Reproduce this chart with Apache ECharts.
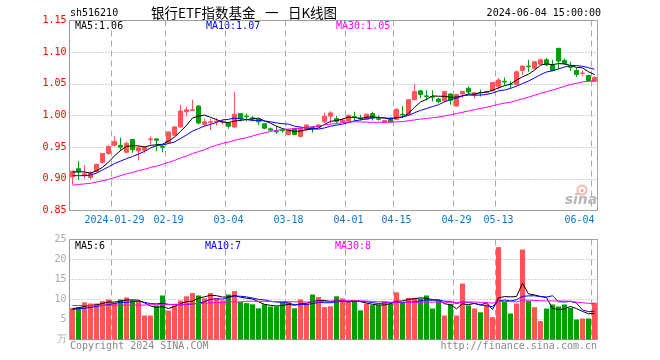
<!DOCTYPE html>
<html><head><meta charset="utf-8">
<script src="https://cdn.jsdelivr.net/npm/echarts@6/dist/echarts.min.js"></script>
<style>html,body{margin:0;padding:0;background:#fff}#c{width:660px;height:360px}</style>
</head><body><div id="c"></div>
<script>
const dates = [
 '2024-01-18','2024-01-19','2024-01-22','2024-01-23','2024-01-24','2024-01-25','2024-01-26','2024-01-29','2024-01-30','2024-01-31',
 '2024-02-01','2024-02-02','2024-02-05','2024-02-06','2024-02-07','2024-02-08','2024-02-19','2024-02-20','2024-02-21','2024-02-22',
 '2024-02-23','2024-02-26','2024-02-27','2024-02-28','2024-02-29','2024-03-01','2024-03-04','2024-03-05','2024-03-06','2024-03-07',
 '2024-03-08','2024-03-11','2024-03-12','2024-03-13','2024-03-14','2024-03-15','2024-03-18','2024-03-19','2024-03-20','2024-03-21',
 '2024-03-22','2024-03-25','2024-03-26','2024-03-27','2024-03-28','2024-03-29','2024-04-01','2024-04-02','2024-04-03','2024-04-08',
 '2024-04-09','2024-04-10','2024-04-11','2024-04-12','2024-04-15','2024-04-16','2024-04-17','2024-04-18','2024-04-19','2024-04-22',
 '2024-04-23','2024-04-24','2024-04-25','2024-04-26','2024-04-29','2024-04-30','2024-05-06','2024-05-07','2024-05-08','2024-05-09',
 '2024-05-10','2024-05-13','2024-05-14','2024-05-15','2024-05-16','2024-05-17','2024-05-20','2024-05-21','2024-05-22','2024-05-23',
 '2024-05-24','2024-05-27','2024-05-28','2024-05-29','2024-05-30','2024-05-31','2024-06-03','2024-06-04'];
const opens = [0.903,0.916,0.905,0.902,0.912,0.926,0.940,0.953,0.953,0.942, 0.962,0.944,0.945,0.962,0.963,0.951,0.957,0.969,0.982,1.006,
 1.008,1.015,0.986,0.989,0.990,0.9895,0.988,0.982,1.003,0.999, 0.9963,0.994,0.987,0.979,0.975,0.977,0.970,0.979,0.967,0.978,
 0.982,0.982,0.990,0.999,0.995,0.990,0.991,0.998,0.996,0.994, 1.003,0.995,0.989,0.996,0.994,1.002,1.001,1.025,1.039,1.031,
 1.030,1.026,1.023,1.034,1.015,1.034,1.043,1.033,1.0365,1.036, 1.039,1.046,1.054,1.0495,1.049,1.071,1.078,1.074,1.081,1.088,
 1.079,1.106,1.087,1.078,1.071,1.0665,1.063,1.054];
const closes = [0.912,0.911,0.908,0.909,0.923,0.940,0.951,0.959,0.950,0.956, 0.946,0.949,0.950,0.963,0.961,0.950,0.974,0.982,1.007,1.009,
 1.009,0.988,0.990,0.990,0.991,0.990,0.983,1.002,0.995,0.998, 0.9947,0.990,0.980,0.977,0.974,0.976,0.977,0.970,0.980,0.985,
 0.981,0.985,0.999,1.004,0.991,0.993,0.9999,0.997,0.995,1.002, 0.996,0.994,0.992,0.990,1.010,1.001,1.025,1.038,1.033,1.030,
 1.029,1.022,1.038,1.024,1.033,1.038,1.037,1.036,1.036,1.038, 1.052,1.056,1.053,1.049,1.069,1.078,1.077,1.085,1.088,1.080,
 1.071,1.086,1.082,1.076,1.065,1.067,1.055,1.060];
const lows = [0.891,0.898,0.900,0.899,0.910,0.924,0.938,0.951,0.944,0.940, 0.941,0.929,0.941,0.954,0.944,0.942,0.956,0.967,0.980,0.999,
 1.007,0.986,0.983,0.977,0.984,0.986,0.979,0.980,0.991,0.991, 0.991,0.985,0.979,0.975,0.971,0.973,0.969,0.969,0.966,0.975,
 0.973,0.981,0.988,0.987,0.987,0.988,0.990,0.991,0.992,0.993, 0.992,0.992,0.988,0.989,0.993,0.996,1.000,1.024,1.027,1.024,
 1.022,1.019,1.022,1.017,1.014,1.028,1.033,1.027,1.030,1.035, 1.038,1.041,1.048,1.043,1.048,1.064,1.069,1.073,1.080,1.078,
 1.070,1.073,1.080,1.070,1.061,1.062,1.053,1.053];
const highs = [0.913,0.928,0.922,0.912,0.924,0.941,0.953,0.967,0.965,0.959, 0.963,0.953,0.952,0.967,0.964,0.954,0.975,0.983,1.017,1.014,
 1.025,1.016,0.995,0.995,0.996,0.994,0.990,1.037,1.004,1.003, 0.999,0.995,0.988,0.981,0.983,0.979,0.978,0.980,0.981,0.986,
 0.983,0.986,1.004,1.007,0.999,0.995,1.002,1.006,1.001,1.003, 1.006,1.000,0.993,0.997,1.011,1.015,1.025,1.049,1.040,1.040,
 1.040,1.028,1.039,1.035,1.034,1.039,1.046,1.037,1.041,1.039, 1.053,1.059,1.060,1.054,1.071,1.079,1.088,1.086,1.090,1.091,
 1.088,1.107,1.090,1.085,1.075,1.071,1.064,1.062];
const volumes = [7.9,8.1,9.3,9.0,9.0,9.6,10.0,9.2,10.0,10.5, 9.8,9.6,6.0,6.0,8.5,11.0,7.25,8.5,9.75,10.8,
 11.6,11.0,10.3,11.6,10.3,9.8,11.25,12.1,9.4,9.1, 8.8,7.8,8.8,8.25,8.25,9.3,9.3,7.8,10.0,9.0,
 11.25,10.6,8.1,8.3,10.8,10.25,9.3,9.75,7.3,9.0, 8.6,8.6,9.6,9.0,11.8,9.3,10.4,10.4,10.25,11.0,
 7.75,9.75,6.0,8.9,6.0,14.0,8.5,7.75,6.8,8.75, 5.6,23.1,9.4,6.5,9.0,22.5,9.6,8.1,4.6,7.75,
 8.75,8.25,8.75,7.9,5.0,5.25,5.25,9.2];
// moving-average values before enough visible history exists
const ma5Head = [0.911,0.911,0.911,0.909];
const ma10Head = [0.905,0.905,0.905,0.906,0.909,0.914,0.919,0.924,0.928];
const ma30Head = [0.890,0.891,0.892,0.893,0.895,0.897,0.899,0.902,0.905,0.908,0.910,0.913,0.915,0.918,0.920,0.923,0.926,0.929,0.933,0.936,0.940,0.943,0.946,0.950,0.953,0.956,0.958,0.961,0.963];
const vma5Head = [7.7,7.9,8.3,8.5];
const vma10Head = [7.5,7.7,7.8,8.0,8.3,8.5,8.75,9.0,9.3];
const vma30Head = [8.5,8.5,8.5,8.5,8.5,8.5,8.5,8.6,8.6,8.6,8.6,8.6,8.6,8.7,8.7,8.7,8.7,8.8,8.8,8.8,9.0,9.0,9.0,9.2,9.2,9.2,9.4,9.4,9.4];
const tickDates = ['2024-01-29','2024-02-19','2024-03-04','2024-03-18','2024-04-01','2024-04-15','2024-04-29','2024-05-13','2024-06-04'];
const yTicks = [0.85,1.15,0.05];
const vTicks = [0,25,5];
const priceLegend = ['MA5:1.06','MA10:1.07','MA30:1.05'];
const volLegend = ['MA5:6','MA10:7','MA30:8'];

function movingAvg(vals, n, head){
  return vals.map((v,i)=>{
    if (i < n-1) return head[i];
    let s=0; for(let k=i-n+1;k<=i;k++) s+=vals[k];
    return +(s/n).toFixed(4);
  });
}
const tickSet = new Set(tickDates.map(d=>dates.indexOf(d)));
const showTick = (i)=>tickSet.has(i);
const ohlc = dates.map((d,i)=>[opens[i],closes[i],lows[i],highs[i]]);
const RED='#ff5555', GREEN='#00a000';
const MONO='"DejaVu Sans Mono", "Liberation Mono", monospace';
const volData = volumes.map((v,i)=>({value:v,itemStyle:{color: closes[i]>=opens[i]?RED:GREEN}}));
const grid1 = {left:69.5, top:20.5, width:528, height:190};
const grid2 = {left:69.5, top:239.5, width:528, height:100};
function lineS(data, color, xi){
  return {type:'line', data, xAxisIndex:xi, yAxisIndex:xi, symbol:'none', silent:true,
    lineStyle:{color, width:1}, itemStyle:{color}, z:5, animation:false};
}
const chart = echarts.init(document.getElementById('c'), null, {renderer:'canvas'});
chart.setOption({
  animation:false,
  backgroundColor:'#ffffff',
  grid:[Object.assign({show:true,borderColor:'#999',borderWidth:1},grid1), Object.assign({show:true,borderColor:'#999',borderWidth:1},grid2)],
  xAxis:[
    {type:'category', gridIndex:0, data:dates, boundaryGap:true,
     axisLine:{show:false}, axisTick:{show:false},
     axisLabel:{show:true, interval:showTick, color:'#0a78d2', fontFamily:MONO, fontSize:10, margin:5,
       alignMaxLabel:'right',
       formatter:(v)=> v===tickDates[0] ? v : v.slice(5)},
     splitLine:{show:true, interval:showTick, lineStyle:{color:'#aaa', width:1, type:[6,4]}}},
    {type:'category', gridIndex:1, data:dates, boundaryGap:true,
     axisLine:{show:false}, axisTick:{show:false}, axisLabel:{show:false},
     splitLine:{show:true, interval:showTick, lineStyle:{color:'#aaa', width:1, type:[6,4]}}}
  ],
  yAxis:[
    {type:'value', gridIndex:0, min:yTicks[0], max:yTicks[1], interval:yTicks[2],
     axisLine:{show:false}, axisTick:{show:false},
     axisLabel:{color:'#ff0000', fontFamily:MONO, fontSize:10, margin:3, formatter:(v)=>v.toFixed(2)},
     splitLine:{show:true, lineStyle:{color:'#aaa', width:1, type:[1,2]}}},
    {type:'value', gridIndex:1, min:vTicks[0], max:vTicks[1], interval:vTicks[2],
     axisLine:{show:false}, axisTick:{show:false},
     axisLabel:{color:'#aaa', fontFamily:MONO, fontSize:10, margin:3, formatter:(v)=> v===0 ? '万' : String(v)},
     splitLine:{show:true, lineStyle:{color:'#aaa', width:1, type:[1,2]}}}
  ],
  series:[
    {type:'candlestick', data:ohlc, xAxisIndex:0, yAxisIndex:0, barWidth:4, silent:true,
     itemStyle:{color:RED, color0:GREEN, borderColor:RED, borderColor0:GREEN, borderWidth:1}},
    lineS(movingAvg(closes,5,ma5Head),'#000000',0),
    lineS(movingAvg(closes,10,ma10Head),'#0000ff',0),
    lineS(movingAvg(closes,30,ma30Head),'#ff00ff',0),
    {type:'bar', data:volData, xAxisIndex:1, yAxisIndex:1, barWidth:5, silent:true},
    lineS(movingAvg(volumes,5,vma5Head),'#000000',1),
    lineS(movingAvg(volumes,10,vma10Head),'#0000ff',1),
    lineS(movingAvg(volumes,30,vma30Head),'#ff00ff',1)
  ],
  graphic:[
    {type:'text', x:70, y:13, style:{text:'sh516210', font:'10px '+MONO, fill:'#000', align:'left', verticalAlign:'middle'}},
    {type:'text', x:151, y:13, style:{text:'银行ETF指数基金\u2002\u2009一\u2002\u2009日K线图', font:'13.5px "Noto Sans CJK SC"', fill:'#000', align:'left', verticalAlign:'middle'}},
    {type:'text', x:601, y:13, style:{text:'2024-06-04 15:00:00', font:'10px '+MONO, fill:'#000', align:'right', verticalAlign:'middle'}},
    {type:'text', x:75, y:26.5, style:{text:priceLegend[0], font:'10px '+MONO, fill:'#000', align:'left', verticalAlign:'middle'}},
    {type:'text', x:206, y:26.5, style:{text:priceLegend[1], font:'10px '+MONO, fill:'#0000ff', align:'left', verticalAlign:'middle'}},
    {type:'text', x:336, y:26.5, style:{text:priceLegend[2], font:'10px '+MONO, fill:'#ff00ff', align:'left', verticalAlign:'middle'}},
    {type:'text', x:75, y:246.5, style:{text:volLegend[0], font:'10px '+MONO, fill:'#000', align:'left', verticalAlign:'middle'}},
    {type:'text', x:205, y:246.5, style:{text:volLegend[1], font:'10px '+MONO, fill:'#0000ff', align:'left', verticalAlign:'middle'}},
    {type:'text', x:335, y:246.5, style:{text:volLegend[2], font:'10px '+MONO, fill:'#ff00ff', align:'left', verticalAlign:'middle'}},
    {type:'text', x:70, y:346, style:{text:'Copyright 2024 SINA.COM', font:'10px '+MONO, fill:'#888', align:'left', verticalAlign:'middle'}},
    {type:'text', x:597, y:346, style:{text:'http://finance.sina.com.cn', font:'10px '+MONO, fill:'#888', align:'right', verticalAlign:'middle'}},
    {type:'circle', shape:{cx:582, cy:190, r:4.5}, style:{fill:'none', stroke:'#f7b4b4', lineWidth:2}, z:1},
    {type:'circle', shape:{cx:582, cy:190.5, r:1.6}, style:{fill:'#f2a0a0'}, z:1},
    {type:'text', x:581, y:200, style:{text:'sina', font:'italic bold 14px "DejaVu Sans"', fill:'#b8b8b8', align:'center', verticalAlign:'middle'}, z:1}
  ]
});
</script></body></html>
